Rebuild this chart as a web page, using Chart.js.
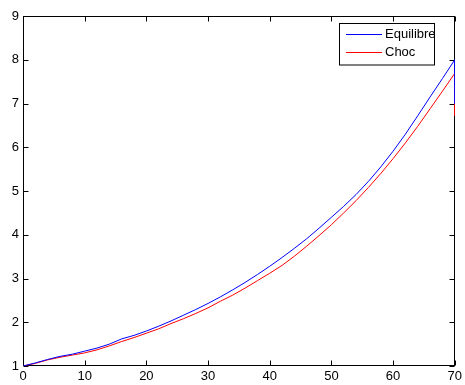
<!DOCTYPE html>
<html>
<head>
<meta charset="utf-8">
<script src="https://cdn.jsdelivr.net/npm/chart.js@4"></script>
<style>
  html, body { margin: 0; padding: 0; background: #fff; }
  #wrap { width: 465px; height: 385px; }
</style>
</head>
<body>
<div id="wrap"><canvas id="c" width="465" height="385"></canvas></div>
<script>
// Years (last entry repeats 70: the terminal drop)
const years = [0, 2, 4, 6, 8, 10, 12, 14, 16, 18, 20, 22, 24, 26, 28, 30, 32, 34, 36, 38,
               40, 42, 44, 46, 48, 50, 52, 54, 56, 58, 60, 62, 64, 66, 68, 70, 70];

const equilibre = [1.00, 1.07, 1.15, 1.22, 1.27, 1.34, 1.41, 1.50, 1.62, 1.70, 1.80, 1.91,
                   2.03, 2.16, 2.29, 2.43, 2.58, 2.74, 2.91, 3.09, 3.28, 3.48, 3.69, 3.91,
                   4.15, 4.40, 4.65, 4.92, 5.22, 5.55, 5.91, 6.30, 6.72, 7.15, 7.57, 8.00, 7.00];

const choc = [1.00, 1.06, 1.14, 1.20, 1.25, 1.30, 1.37, 1.46, 1.56, 1.65, 1.75, 1.85,
              1.97, 2.08, 2.20, 2.33, 2.48, 2.62, 2.78, 2.95, 3.12, 3.30, 3.51, 3.74,
              3.98, 4.23, 4.50, 4.78, 5.08, 5.40, 5.74, 6.10, 6.48, 6.88, 7.28, 7.69, 6.72];

const xTicks = [0, 10, 20, 30, 40, 50, 60, 70];
const yTicks = [1, 2, 3, 4, 5, 6, 7, 8, 9];

const FONT = "'Liberation Sans', Arial, Helvetica, sans-serif";

const toPoints = (xs, ys) => xs.map((x, i) => ({ x: x, y: ys[i] }));

// Box around the plot area with inward ticks on all four sides
const boxPlugin = {
  id: 'box',
  beforeDatasetsDraw(chart) {
    const { ctx, chartArea: a, scales } = chart;
    ctx.save();
    ctx.strokeStyle = '#000';
    ctx.lineWidth = 1;
    const L = Math.round(a.left) + 0.5, R = Math.round(a.right) - 0.5;
    const T = Math.round(a.top) + 0.5, B = Math.round(a.bottom) - 0.5;
    ctx.strokeRect(L, T, R - L, B - T);
    const len = 5;
    ctx.beginPath();
    scales.x.ticks.forEach(t => {
      const px = Math.round(scales.x.getPixelForValue(t.value)) + 0.5;
      ctx.moveTo(px, B); ctx.lineTo(px, B - len);
      ctx.moveTo(px, T); ctx.lineTo(px, T + len);
    });
    scales.y.ticks.forEach(t => {
      const py = Math.round(scales.y.getPixelForValue(t.value)) + 0.5;
      ctx.moveTo(L, py); ctx.lineTo(L + len, py);
      ctx.moveTo(R, py); ctx.lineTo(R - len, py);
    });
    ctx.stroke();
    ctx.restore();
  }
};

// Boxed legend in the upper right corner
const legendBox = {
  id: 'legendBox',
  afterDatasetsDraw(chart) {
    const { ctx } = chart;
    ctx.save();
    const x0 = 339.5, y0 = 23.5, w = 95, h = 41.5;
    ctx.fillStyle = '#fff';
    ctx.fillRect(x0, y0, w, h);
    ctx.strokeStyle = '#000';
    ctx.lineWidth = 1;
    ctx.strokeRect(x0, y0, w, h);
    ctx.font = '13px ' + FONT;
    ctx.textBaseline = 'middle';
    ctx.textAlign = 'left';
    chart.data.datasets.forEach((ds, i) => {
      const y = 34.5 + i * 18;
      ctx.strokeStyle = ds.borderColor;
      ctx.beginPath();
      ctx.moveTo(346, y); ctx.lineTo(382, y);
      ctx.stroke();
      ctx.fillStyle = '#000';
      ctx.fillText(ds.label, 385, y);
    });
    ctx.restore();
  }
};

new Chart(document.getElementById('c'), {
  type: 'line',
  data: {
    datasets: [
      { label: 'Equilibre', data: toPoints(years, equilibre), borderColor: '#0000ff',
        borderWidth: 1, pointRadius: 0, tension: 0, fill: false },
      { label: 'Choc', data: toPoints(years, choc), borderColor: '#ff0000',
        borderWidth: 1, pointRadius: 0, tension: 0, fill: false }
    ]
  },
  options: {
    responsive: false,
    animation: false,
    events: [],
    layout: { padding: { top: 16, right: 8, left: 0, bottom: 0 } },
    plugins: { legend: { display: false }, tooltip: { enabled: false } },
    scales: {
      x: {
        type: 'linear', min: 0, max: 70,
        afterBuildTicks: s => { s.ticks = xTicks.map(v => ({ value: v })); },
        afterFit: s => { s.height = 19; },
        grid: { display: false, drawTicks: false },
        border: { display: false },
        ticks: { padding: 3, color: '#000', font: { family: FONT, size: 13 }, maxRotation: 0 }
      },
      y: {
        type: 'linear', min: 1, max: 9,
        afterBuildTicks: s => { s.ticks = yTicks.map(v => ({ value: v })); },
        afterFit: s => { s.width = 23; },
        grid: { display: false, drawTicks: false },
        border: { display: false },
        ticks: { padding: 4, color: '#000', font: { family: FONT, size: 13 } }
      }
    }
  },
  plugins: [boxPlugin, legendBox]
});
</script>
</body>
</html>
